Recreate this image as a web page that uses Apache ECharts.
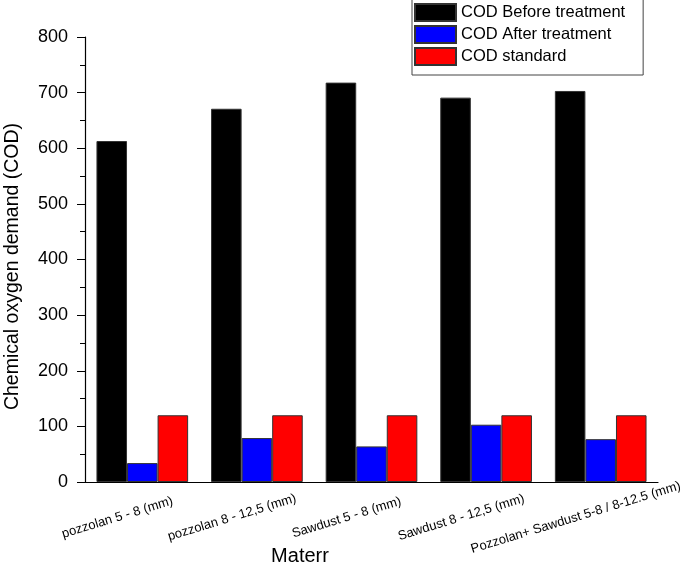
<!DOCTYPE html>
<html><head><meta charset="utf-8">
<script src="https://cdn.jsdelivr.net/npm/echarts@6/dist/echarts.min.js"></script>
<style>html,body{margin:0;padding:0;background:#fff}#c{width:685px;height:566px}</style>
</head><body><div id="c"></div>
<script>
const categories = ["pozzolan 5 - 8 (mm)", "pozzolan 8 - 12,5 (mm)", "Sawdust 5 - 8 (mm)", "Sawdust 8 - 12,5 (mm)", "Pozzolan+ Sawdust 5-8 / 8-12.5 (mm)"];
const seriesNames = ["COD Before treatment", "COD After treatment", "COD standard"];
const codBefore = [613, 671, 718, 691, 703];
const codAfter = [34, 79, 64, 103, 77];
const codStandard = [120, 120, 120, 120, 120];
const colors = ["#000000", "#0000ff", "#ff0000"];

const chart = echarts.init(document.getElementById('c'));
const font = 'Liberation Sans, Arial, sans-serif';
const dataSets = [codBefore, codAfter, codStandard];
chart.setOption({
  animation: false,
  textStyle: {fontFamily: font},
  grid: {left: 85, right: 27, top: 37, bottom: 84, containLabel: false, outerBoundsMode: 'none'},
  legend: {
    orient: 'vertical', left: 412, top: -5,
    backgroundColor: '#fff', borderColor: '#444', borderWidth: 1,
    padding: [8, 18, 9, 2], itemGap: 3, itemWidth: 41, itemHeight: 17,
    textStyle: {fontSize: 16.5, lineHeight: 17, color: '#000', fontFamily: font},
    data: seriesNames.map(n => ({name: n, icon: 'rect'}))
  },
  xAxis: [{
    type: 'category', data: categories,
    name: 'Materr', nameLocation: 'middle', nameGap: 64, nameMoveOverlap: false,
    nameTextStyle: {fontSize: 20, color: '#000', padding: [0, 143, 0, 0]},
    axisLine: {lineStyle: {color: '#000', width: 1.2}},
    axisTick: {alignWithLabel: true, length: 6, lineStyle: {color: '#000'}},
    axisLabel: {rotate: 17, fontSize: 13, color: '#000', align: 'center', verticalAlign: 'middle', margin: 28, padding: [0, 52, 0, 0], interval: 0}
  }, {
    type: 'category', data: categories, position: 'bottom',
    axisLine: {show: false},
    axisTick: {length: 4, lineStyle: {color: '#000'}},
    axisLabel: {show: false}
  }],
  yAxis: {
    type: 'value', min: 0, max: 800, interval: 100,
    name: 'Chemical oxygen demand (COD)', nameLocation: 'middle', nameGap: 62, nameMoveOverlap: false,
    nameTextStyle: {fontSize: 19.5, color: '#000', padding: [0, 14, 0, 0]},
    axisLine: {show: true, lineStyle: {color: '#000', width: 1.2}},
    axisTick: {show: true, length: 8, lineStyle: {color: '#000'}},
    minorTick: {show: true, splitNumber: 2, length: 5, lineStyle: {color: '#000'}},
    splitLine: {show: false},
    axisLabel: {fontSize: 18, color: '#000', margin: 17}
  },
  series: seriesNames.map((n, i) => ({
    name: n, type: 'bar', data: dataSets[i], barGap: '0%', barCategoryGap: '20%',
    itemStyle: {color: colors[i], borderColor: '#333', borderWidth: 1}
  }))
});
</script></body></html>
